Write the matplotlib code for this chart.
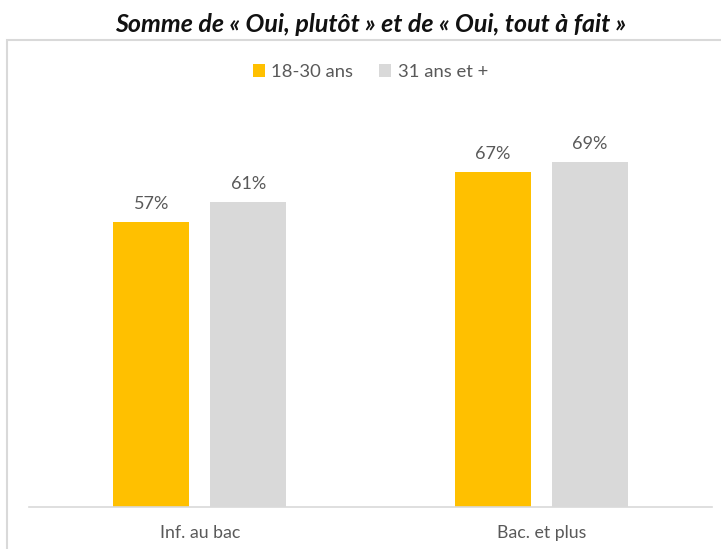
import numpy as np
import matplotlib.pyplot as plt
from matplotlib.patches import Rectangle

categories = ['Inf. au bac', 'Bac. et plus']
series_names = ['18-30 ans', '31 ans et +']
young = [57, 67]
older = [61, 69]
colors = ['#FFC000', '#D9D9D9']

text_color = '#595959'
label_font = 'Lato'

fig = plt.figure(figsize=(7.21, 5.49), dpi=100)

# frame around the chart area (open at the right / bottom like the crop)
fig.patches.append(Rectangle((7 / 721, -0.05), 1.0, (549 - 40) / 549 + 0.05,
                             transform=fig.transFigure, fill=False,
                             edgecolor='#D9D9D9', linewidth=1.5))

ax = fig.add_axes([29 / 721, 42 / 549, (712 - 29) / 721, (507 - 40) / 549])

x = np.arange(len(categories))
w = 0.223
off = 0.142
b1 = ax.bar(x - off, young, w, color=colors[0], label=series_names[0])
b2 = ax.bar(x + off, older, w, color=colors[1], label=series_names[1])

for bars in (b1, b2):
    for b in bars:
        ax.text(b.get_x() + b.get_width() / 2, b.get_height() + 2.0,
                f'{b.get_height():.0f}%', ha='center', va='bottom',
                fontsize=13, color=text_color, family=label_font)

ax.set_xlim(-0.5, 1.5)
ax.set_ylim(0, 93.4)
ax.set_yticks([])
ax.set_xticks(x)
ax.set_xticklabels(categories, fontsize=12.8, color=text_color, family=label_font)
ax.tick_params(axis='x', length=0, pad=13)
for s in ['top', 'right', 'left']:
    ax.spines[s].set_visible(False)
ax.spines['bottom'].set_color('#D9D9D9')
ax.spines['bottom'].set_linewidth(1.2)

leg = ax.legend(loc='center', bbox_to_anchor=(0.5, (507 - 72) / (507 - 40)),
                ncol=2, frameon=False, handlelength=0.65, handleheight=0.65,
                handletextpad=0.35, columnspacing=1.4,
                prop={'family': label_font, 'size': 13.3})
for t in leg.get_texts():
    t.set_color(text_color)

fig.text(371 / 721, 1 - 24 / 549, 'Somme de « Oui, plutôt » et de « Oui, tout à fait »',
         ha='center', va='center', fontsize=18, fontweight='bold',
         fontstyle='italic', family='Lato', color='#111111')

fig.savefig('out.png', dpi=100)
